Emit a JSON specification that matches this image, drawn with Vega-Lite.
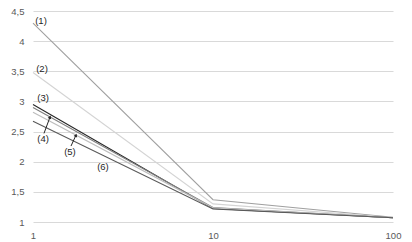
{
  "$schema": "https://vega.github.io/schema/vega-lite/v6.json",
  "width": 360,
  "height": 211,
  "autosize": {"type": "none"},
  "padding": {"left": 33, "top": 11, "right": 19, "bottom": 20},
  "background": "white",
  "config": {"view": {"stroke": null}, "font": "Liberation Sans"},
  "datasets": {
    "lines": [
      {"s": "1", "x": 1, "y": 4.30}, {"s": "1", "x": 10, "y": 1.37}, {"s": "1", "x": 100, "y": 1.08},
      {"s": "2", "x": 1, "y": 3.48}, {"s": "2", "x": 10, "y": 1.30}, {"s": "2", "x": 100, "y": 1.075},
      {"s": "3", "x": 1, "y": 2.95}, {"s": "3", "x": 10, "y": 1.225}, {"s": "3", "x": 100, "y": 1.07},
      {"s": "4", "x": 1, "y": 2.90}, {"s": "4", "x": 10, "y": 1.24}, {"s": "4", "x": 100, "y": 1.07},
      {"s": "5", "x": 1, "y": 2.82}, {"s": "5", "x": 10, "y": 1.235}, {"s": "5", "x": 100, "y": 1.07},
      {"s": "6", "x": 1, "y": 2.67}, {"s": "6", "x": 10, "y": 1.215}, {"s": "6", "x": 100, "y": 1.07}
    ],
    "labels": [
      {"t": "(1)", "x": 1.108, "y": 4.33},
      {"t": "(2)", "x": 1.122, "y": 3.54},
      {"t": "(3)", "x": 1.137, "y": 3.05},
      {"t": "(4)", "x": 1.137, "y": 2.37},
      {"t": "(5)", "x": 1.605, "y": 2.16},
      {"t": "(6)", "x": 2.448, "y": 1.91}
    ],
    "arrows": [
      {"x": 1.151, "y": 2.47, "x2": 1.243, "y2": 2.74},
      {"x": 1.626, "y": 2.26, "x2": 1.733, "y2": 2.44}
    ]
  },
  "encoding": {
    "x": {
      "field": "x", "type": "quantitative",
      "scale": {"type": "log", "domain": [1, 100], "nice": false},
      "axis": {"values": [1, 10, 100], "grid": false, "domain": false, "ticks": false,
               "labelColor": "#595959", "labelFontSize": 9.5, "labelPadding": 8, "title": null,
               "format": "d", "labelFlush": false, "labelOverlap": false}
    },
    "y": {
      "field": "y", "type": "quantitative",
      "scale": {"domain": [1, 4.5], "nice": false, "zero": false},
      "axis": {"values": [1, 1.5, 2, 2.5, 3, 3.5, 4, 4.5], "grid": true, "gridColor": "#d9d9d9",
               "domain": false, "ticks": false, "labelColor": "#595959", "labelFontSize": 9.5,
               "labelPadding": 9, "title": null, "labelOverlap": false, "labelFlush": false,
               "labelExpr": "replace(toString(datum.value), '.', ',')"}
    }
  },
  "layer": [
    {
      "data": {"name": "lines"},
      "mark": {"type": "line", "strokeWidth": 1.1},
      "encoding": {
        "detail": {"field": "s"},
        "color": {
          "field": "s", "type": "nominal", "legend": null,
          "scale": {"domain": ["1", "2", "3", "4", "5", "6"],
                    "range": ["#a0a0a0", "#d4d4d4", "#262626", "#7f7f7f", "#bdbdbd", "#595959"]}
        }
      }
    },
    {
      "data": {"name": "arrows"},
      "mark": {"type": "rule", "color": "#262626", "strokeWidth": 1},
      "encoding": {
        "x2": {"field": "x2"},
        "y2": {"field": "y2"}
      }
    },
    {
      "data": {"name": "arrows"},
      "mark": {"type": "point", "shape": "triangle-up", "filled": true, "size": 14, "angle": 22, "color": "#262626", "opacity": 1},
      "encoding": {
        "x": {"field": "x2", "type": "quantitative"},
        "y": {"field": "y2", "type": "quantitative"}
      }
    },
    {
      "data": {"name": "labels"},
      "mark": {"type": "text", "fontSize": 9.5, "color": "#262626", "align": "center", "baseline": "middle"},
      "encoding": {
        "text": {"field": "t"}
      }
    }
  ]
}
